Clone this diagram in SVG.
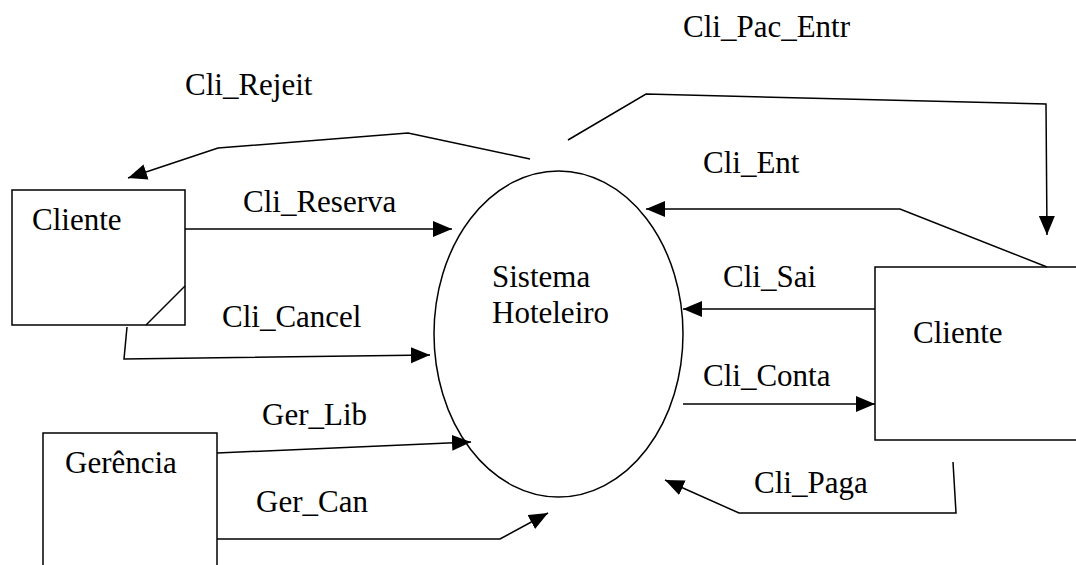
<svg xmlns="http://www.w3.org/2000/svg" width="1076" height="565" viewBox="0 0 1076 565">
<style>
.box{fill:#fff;stroke:#000;stroke-width:1.5}
.ln{fill:none;stroke:#000;stroke-width:1.5}
.t{font-size:31px;fill:#000}
</style>
<defs>
<marker id="ah" markerUnits="userSpaceOnUse" markerWidth="20" markerHeight="18" refX="19" refY="8" orient="auto">
<path d="M0,0 L19,8 L0,16 Z" fill="#000"/>
</marker>
</defs>
<rect width="1076" height="565" fill="#fff"/>
<g font-family="'Liberation Serif', 'Times New Roman', Times, serif">
<g id="cliente-left">
<rect class="box" x="12" y="190" width="173" height="135"/>
<path class="ln" d="M146,325 L185,286"/>
<text class="t" x="32" y="230">Cliente</text>
</g>
<g id="gerencia">
<rect class="box" x="43" y="433" width="174" height="150"/>
<text class="t" x="65" y="473">Gerência</text>
</g>
<g id="sistema">
<ellipse class="box" cx="558.5" cy="334" rx="124.5" ry="163"/>
<text class="t" x="492" y="287">Sistema</text>
<text class="t" x="492" y="323">Hoteleiro</text>
</g>
<g id="cliente-right">
<rect class="box" x="875" y="267" width="220" height="173"/>
<text class="t" x="913" y="343">Cliente</text>
</g>
<g id="connectors">
<polyline class="ln" points="530,159 408,133 218,148 128,178" marker-end="url(#ah)"/>
<polyline class="ln" points="185,229 452,229" marker-end="url(#ah)"/>
<polyline class="ln" points="127,327 124,359 430,355" marker-end="url(#ah)"/>
<polyline class="ln" points="217,453 471,442" marker-end="url(#ah)"/>
<polyline class="ln" points="217,539 500,539 548,513" marker-end="url(#ah)"/>
<polyline class="ln" points="568,140 646,94 1046,104 1047,235" marker-end="url(#ah)"/>
<polyline class="ln" points="1047,267 900,209 646,209" marker-end="url(#ah)"/>
<polyline class="ln" points="875,309 683,309" marker-end="url(#ah)"/>
<polyline class="ln" points="683,404 875,404" marker-end="url(#ah)"/>
<polyline class="ln" points="953,462 956,513 739,513 665,480" marker-end="url(#ah)"/>
</g>
<g id="labels">
<text class="t" x="683" y="37">Cli_Pac_Entr</text>
<text class="t" x="185" y="95">Cli_Rejeit</text>
<text class="t" x="243" y="212">Cli_Reserva</text>
<text class="t" x="222" y="327">Cli_Cancel</text>
<text class="t" x="262" y="425">Ger_Lib</text>
<text class="t" x="256" y="512">Ger_Can</text>
<text class="t" x="703" y="173">Cli_Ent</text>
<text class="t" x="723" y="287">Cli_Sai</text>
<text class="t" x="703" y="386">Cli_Conta</text>
<text class="t" x="754" y="493">Cli_Paga</text>
</g>
</g>
</svg>
